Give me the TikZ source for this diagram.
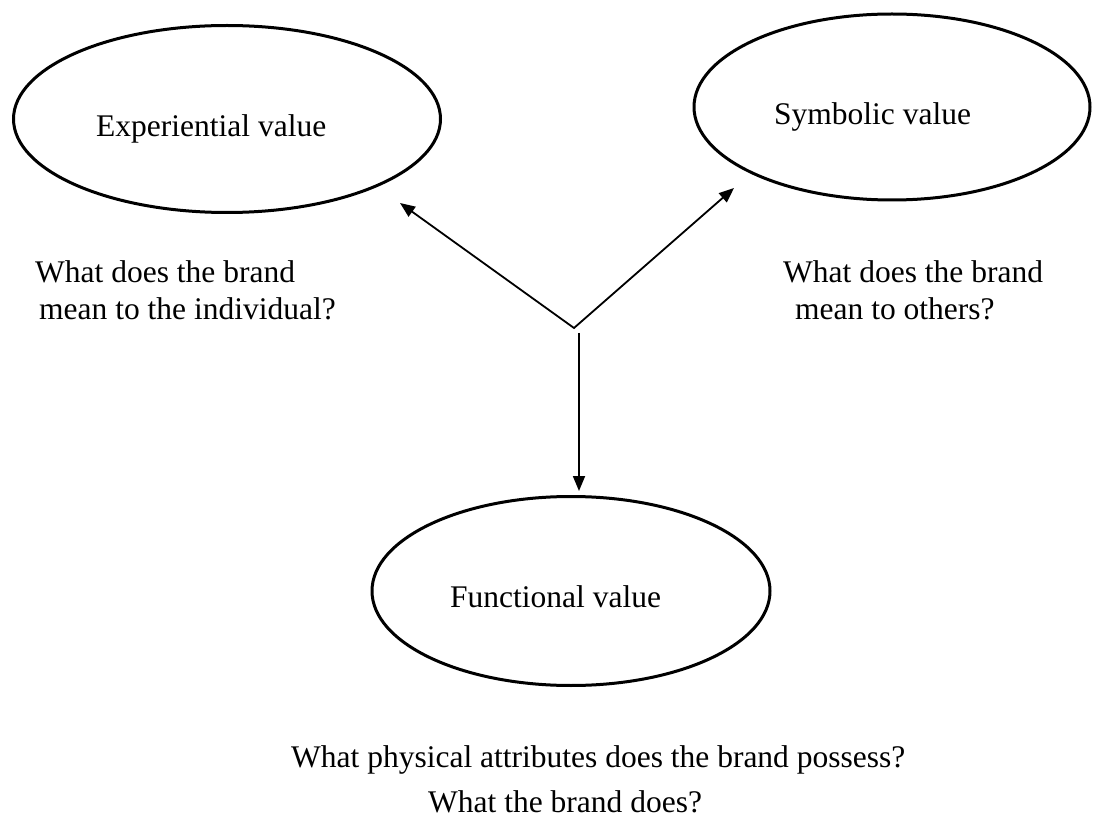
\documentclass[tikz,border=0pt]{standalone}
\usepackage{fontspec}
\setmainfont{Liberation Serif}
\usetikzlibrary{shapes.geometric,arrows.meta}
\tikzset{ptr/.tip={Triangle[length=15pt,width=12pt]}}
\begin{document}
\begin{tikzpicture}[x=1pt,y=-1pt,
  valnode/.style={draw, ellipse, line width=3pt, inner sep=0pt},
  txt/.style={font=\fontsize{31.5}{37}\selectfont, inner sep=0pt, anchor=base west},
  arr/.style={line width=1.8pt}]
\useasboundingbox (0,0) rectangle (1093,818);

% the three kinds of value
\node[valnode, minimum width=427pt, minimum height=187pt] (exp) at (227,119) {};
\node[valnode, minimum width=396pt, minimum height=186pt] (sym) at (892,107) {};
\node[valnode, minimum width=398pt, minimum height=189pt] (fun) at (571,591) {};

\node[txt] (expLabel) at (96,137) {Experiential value};
\node[txt] (symLabel) at (774,125) {Symbolic value};
\node[txt] (funLabel) at (450,607) {Functional value};

% guiding questions
\node[txt] (expQa) at (35,283) {What does the brand};
\node[txt] (expQb) at (39,320) {mean to the individual?};
\node[txt] (symQa) at (783,283) {What does the brand};
\node[txt] (symQb) at (795,320) {mean to others?};
\node[txt] (funQa) at (291,767) {What physical attributes does the brand possess?};
\node[txt] (funQb) at (428,812) {What the brand does?};

% connectors
\coordinate (hub) at (574,328);
\coordinate (expTip) at (400,203);
\coordinate (symTip) at (734,188);
\coordinate (stem) at (579,333);
\coordinate (funTip) at (579,491);
\draw[arr, {ptr}-{ptr}] (expTip) -- (hub) -- (symTip);
\draw[arr, -{ptr}] (stem) -- (funTip);
\end{tikzpicture}
\end{document}
